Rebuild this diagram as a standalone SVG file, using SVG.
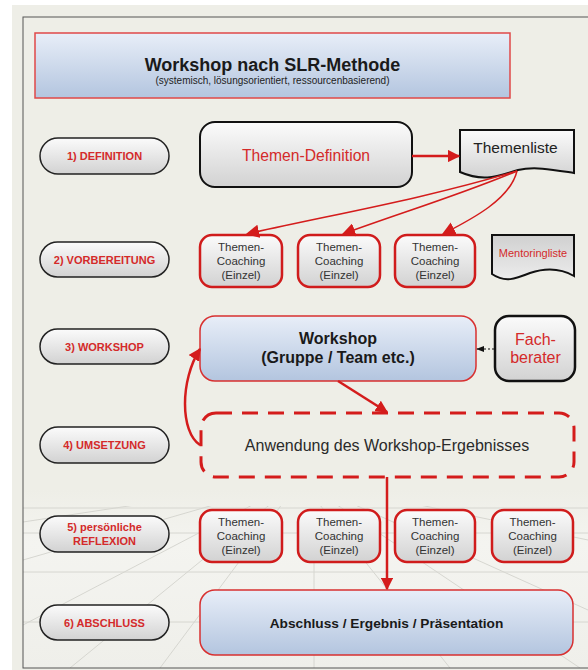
<svg xmlns="http://www.w3.org/2000/svg" width="588" height="670" viewBox="0 0 588 670">
<defs>
<linearGradient id="gBlue" x1="0" y1="0" x2="0" y2="1"><stop offset="0" stop-color="#e8eef8"/><stop offset="1" stop-color="#b3c5df"/></linearGradient>
<linearGradient id="gGray" x1="0" y1="0" x2="0" y2="1"><stop offset="0" stop-color="#fbfbfb"/><stop offset="1" stop-color="#d2d2d2"/></linearGradient>
<linearGradient id="gDoc" x1="0" y1="0" x2="0" y2="1"><stop offset="0" stop-color="#d0d0d0"/><stop offset="1" stop-color="#ececec"/></linearGradient>
<linearGradient id="gFloor" x1="0" y1="0" x2="0" y2="1"><stop offset="0" stop-color="#eeeee7"/><stop offset="0.3" stop-color="#f4f4f0"/><stop offset="1" stop-color="#efefea"/></linearGradient>
<clipPath id="floorClip"><rect x="23" y="506" width="565" height="162"/></clipPath>
<marker id="aRed" viewBox="0 0 10 10" refX="9" refY="5" markerWidth="5" markerHeight="5" orient="auto" markerUnits="strokeWidth"><path d="M0,0 L10,5 L0,10 Z" fill="#d41c1c"/></marker>
<marker id="aRedS" viewBox="0 0 10 10" refX="9" refY="5" markerWidth="9" markerHeight="9" orient="auto" markerUnits="strokeWidth"><path d="M0,0 L10,5 L0,10 Z" fill="#d41c1c"/></marker>
<marker id="aBlk" viewBox="0 0 10 10" refX="9" refY="5" markerWidth="8" markerHeight="8" orient="auto" markerUnits="strokeWidth"><path d="M0,1 L10,5 L0,9 Z" fill="#111"/></marker>
</defs>
<style>
.pill{fill:url(#gGray);stroke:#222;stroke-width:1.5}
.ptxt{font-family:"Liberation Sans",Arial,sans-serif;font-weight:bold;font-size:11px;fill:#d42a2a;text-anchor:middle}
.coach{fill:url(#gGray);stroke:#d01c1c;stroke-width:2.5}
.ctxt{font-family:"Liberation Sans",Arial,sans-serif;font-size:11.5px;fill:#333;text-anchor:middle}
.blue{fill:url(#gBlue);stroke:#d83030;stroke-width:1.5}
.btxt{font-family:"Liberation Sans",Arial,sans-serif;font-weight:bold;fill:#1a1a1a;text-anchor:middle}
.red{stroke:#d41c1c;fill:none}
.grid{stroke:#d6d6d0;stroke-width:1;fill:none}
</style>
<rect x="0" y="0" width="588" height="670" fill="#ffffff"/>
<rect x="12" y="5" width="576" height="665" fill="#eeeee7"/>
<rect x="23" y="490" width="565" height="178" fill="url(#gFloor)"/>
<g id="floor-grid" clip-path="url(#floorClip)">
<path class="grid" d="M23,508 H588 M23,533 H588 M23,572 H588 M23,622 H588 M314,562 V668"/>
<path class="grid" d="M300,480 L23,560 M300,480 L23,625 M300,480 L70,668 M300,480 L160,668 M300,480 L450,668 M300,480 L580,668 M300,480 L588,610 M300,480 L588,540 M300,480 L23,522"/>
</g>
<rect x="23" y="17" width="580" height="651" fill="none" stroke="#555" stroke-width="1"/>
<g id="title">
<rect x="35" y="33" width="475" height="65" fill="url(#gBlue)" stroke="#e04848" stroke-width="1.5"/>
<text x="272.5" y="71" class="btxt" font-size="18">Workshop nach SLR-Methode</text>
<text x="272.5" y="84" font-family="Liberation Sans,Arial,sans-serif" font-size="10" fill="#222" text-anchor="middle">(systemisch, lösungsorientiert, ressourcenbasierend)</text>
</g>
<g id="phase1"><rect class="pill" x="40" y="138" width="129" height="36" rx="18"/><text class="ptxt" x="104.5" y="160">1) DEFINITION</text></g>
<g id="phase2"><rect class="pill" x="40" y="242" width="129" height="35" rx="17.5"/><text class="ptxt" x="104.5" y="263.5">2) VORBEREITUNG</text></g>
<g id="phase3"><rect class="pill" x="40" y="329" width="129" height="35" rx="17.5"/><text class="ptxt" x="104.5" y="350.5">3) WORKSHOP</text></g>
<g id="phase4"><rect class="pill" x="40" y="427" width="129" height="36" rx="18"/><text class="ptxt" x="104.5" y="449">4) UMSETZUNG</text></g>
<g id="phase5"><rect class="pill" x="40" y="516" width="129" height="36" rx="18"/><text class="ptxt" x="104.5" y="531">5) persönliche</text><text class="ptxt" x="104.5" y="544.5">REFLEXION</text></g>
<g id="phase6"><rect class="pill" x="40" y="605" width="129" height="35" rx="17.5"/><text class="ptxt" x="104.5" y="626.5">6) ABSCHLUSS</text></g>
<g id="themen-definition">
<rect x="200" y="122" width="212" height="65" rx="15" fill="url(#gGray)" stroke="#111" stroke-width="2"/>
<text x="306" y="161" font-family="Liberation Sans,Arial,sans-serif" font-size="15.7" fill="#d42a2a" text-anchor="middle">Themen-Definition</text>
</g>
<g id="themenliste">
<path d="M460,130 H574 V173 C555,170 535,166 518,170 C500,175 485,183 460,172 Z" fill="url(#gGray)" stroke="#111" stroke-width="2"/>
<text x="515.5" y="153" font-family="Liberation Sans,Arial,sans-serif" font-size="15.5" fill="#222" text-anchor="middle">Themenliste</text>
</g>
<g id="coaching2-1"><rect class="coach" x="200" y="235" width="82" height="52" rx="12"/><text class="ctxt" x="241" y="251">Themen-</text><text class="ctxt" x="241" y="265">Coaching</text><text class="ctxt" x="241" y="279">(Einzel)</text></g>
<g id="coaching2-2"><rect class="coach" x="298" y="235" width="82" height="52" rx="12"/><text class="ctxt" x="339" y="251">Themen-</text><text class="ctxt" x="339" y="265">Coaching</text><text class="ctxt" x="339" y="279">(Einzel)</text></g>
<g id="coaching2-3"><rect class="coach" x="395" y="235" width="80" height="52" rx="12"/><text class="ctxt" x="435" y="251">Themen-</text><text class="ctxt" x="435" y="265">Coaching</text><text class="ctxt" x="435" y="279">(Einzel)</text></g>
<g id="mentoringliste">
<path d="M492,235 H574 V276 C560,268 545,268 530,273 C515,279 505,283 492,274 Z" fill="url(#gDoc)" stroke="#111" stroke-width="2"/>
<text x="533" y="257" font-family="Liberation Sans,Arial,sans-serif" font-size="11" fill="#d42a2a" text-anchor="middle">Mentoringliste</text>
</g>
<g id="workshop">
<rect class="blue" x="200" y="316" width="276" height="65" rx="15"/>
<text class="btxt" x="338" y="344" font-size="16">Workshop</text>
<text class="btxt" x="338" y="363" font-size="16">(Gruppe / Team etc.)</text>
</g>
<g id="fachberater">
<rect x="495" y="316" width="80" height="65" rx="14" fill="url(#gGray)" stroke="#111" stroke-width="2.5"/>
<text x="535.5" y="345" font-family="Liberation Sans,Arial,sans-serif" font-size="16" fill="#d42a2a" text-anchor="middle">Fach-</text>
<text x="535.5" y="363" font-family="Liberation Sans,Arial,sans-serif" font-size="16" fill="#d42a2a" text-anchor="middle">berater</text>
</g>
<g id="umsetzung">
<rect x="201" y="413" width="373" height="64" rx="15" fill="none" stroke="#d41c1c" stroke-width="3" stroke-dasharray="16,10"/>
<text x="387" y="451" font-family="Liberation Sans,Arial,sans-serif" font-size="16" fill="#2a2a2a" text-anchor="middle">Anwendung des Workshop-Ergebnisses</text>
</g>
<g id="coaching5-1"><rect class="coach" x="200" y="510" width="82" height="52" rx="12"/><text class="ctxt" x="241" y="526">Themen-</text><text class="ctxt" x="241" y="540">Coaching</text><text class="ctxt" x="241" y="554">(Einzel)</text></g>
<g id="coaching5-2"><rect class="coach" x="298" y="510" width="82" height="52" rx="12"/><text class="ctxt" x="339" y="526">Themen-</text><text class="ctxt" x="339" y="540">Coaching</text><text class="ctxt" x="339" y="554">(Einzel)</text></g>
<g id="coaching5-3"><rect class="coach" x="395" y="510" width="80" height="52" rx="12"/><text class="ctxt" x="435" y="526">Themen-</text><text class="ctxt" x="435" y="540">Coaching</text><text class="ctxt" x="435" y="554">(Einzel)</text></g>
<g id="coaching5-4"><rect class="coach" x="492" y="510" width="81" height="52" rx="12"/><text class="ctxt" x="532.5" y="526">Themen-</text><text class="ctxt" x="532.5" y="540">Coaching</text><text class="ctxt" x="532.5" y="554">(Einzel)</text></g>
<g id="abschluss">
<rect class="blue" x="200" y="590" width="373" height="65" rx="15"/>
<text class="btxt" x="386.5" y="628" font-size="13.7">Abschluss / Ergebnis / Präsentation</text>
</g>
<g id="connectors">
<path class="red" d="M412,156 H459" stroke-width="2.5" marker-end="url(#aRed)"/>
<path class="red" d="M517,171 C420,200 330,215 247,234" stroke-width="1.5" marker-end="url(#aRedS)"/>
<path class="red" d="M517,171 C460,195 400,213 343,234" stroke-width="1.5" marker-end="url(#aRedS)"/>
<path class="red" d="M517,171 C510,200 470,220 443,234" stroke-width="1.5" marker-end="url(#aRedS)"/>
<path d="M494,349 H477" stroke="#111" stroke-width="1" stroke-dasharray="2,2" fill="none" marker-end="url(#aBlk)"/>
<path class="red" d="M338,381 L387,412" stroke-width="2.5" marker-end="url(#aRed)"/>
<path class="red" d="M200,445 C180,432 180,380 200,349" stroke-width="2.5" marker-end="url(#aRed)"/>
<path class="red" d="M387,477 V589" stroke-width="2.5" marker-end="url(#aRed)"/>
</g>
</svg>
